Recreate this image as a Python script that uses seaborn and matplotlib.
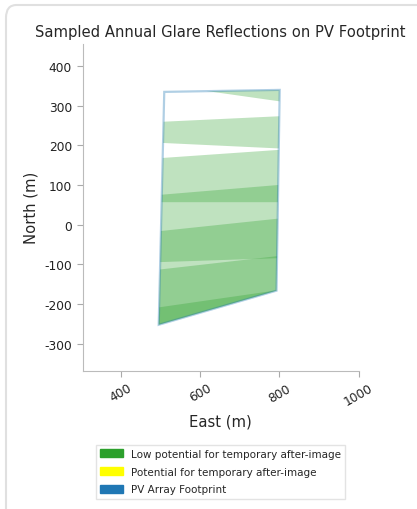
import numpy as np
import matplotlib
matplotlib.use("Agg")
import matplotlib.pyplot as plt
import seaborn as sns
from matplotlib.patches import Polygon, Patch, FancyBboxPatch

sns.set_style("ticks")
plt.rcParams['font.family'] = ['DejaVu Sans']
plt.rcParams['axes.unicode_minus'] = False

# PV array footprint corners (East, North) in m
foot_east = [510, 801, 793, 496]
foot_north = [335, 340, -166, -252]

# glare bands: north at west side / east side, top and bottom edges
band_x = [470, 830]
band_top_w = [450, 258, 166, 73, -19, -116, -212]
band_top_e = [450, 275, 191, 103, 19, -75, -160]
band_bot_w = [358, 208, 57, -95, -320, -320, -320]
band_bot_e = [307, 191, 57, -83, -320, -320, -320]

labels = ['Low potential for temporary after-image',
          'Potential for temporary after-image',
          'PV Array Footprint']
colors = ['tab:green', 'yellow', 'tab:blue']

fig = plt.figure(figsize=(4.17, 5.10), dpi=100)
ax = fig.add_axes([0.197, 0.271, 0.664, 0.641])

clip = Polygon(np.column_stack([foot_east, foot_north]), closed=True,
               transform=ax.transData, facecolor='none', edgecolor='none')
ax.add_patch(clip)

for tw, te, bw, be in zip(band_top_w, band_top_e, band_bot_w, band_bot_e):
    xs = [band_x[0], band_x[1], band_x[1], band_x[0]]
    ys = [tw, te, be, bw]
    p = ax.fill(xs, ys, color='tab:green', alpha=0.3, lw=0)[0]
    p.set_clip_path(clip)

ax.fill(foot_east, foot_north, facecolor='none', edgecolor='tab:blue',
        alpha=0.35, lw=1.6)

ax.set_xlim(304, 1000)
ax.set_ylim(-368, 456)
ax.set_aspect('equal')
ax.set_xticks([400, 600, 800, 1000])
ax.set_yticks(range(-300, 401, 100))
plt.setp(ax.get_xticklabels(), rotation=30)
ax.tick_params(colors='#aaaaaa', labelcolor='#222222', labelsize=8.8, length=4)
for s in ['left', 'bottom']:
    ax.spines[s].set_color('#bbbbbb')
sns.despine(ax=ax)

ax.set_title('Sampled Annual Glare Reflections on PV Footprint', fontsize=10.6)
ax.set_xlabel('East (m)', fontsize=10.6)
ax.set_ylabel('North (m)', fontsize=10.6)

handles = [Patch(color=c, label=l) for c, l in zip(colors, labels)]
ax.legend(handles=handles, loc='upper center', bbox_to_anchor=(0.5, -0.21),
          fontsize=7.5, frameon=True, fancybox=False, edgecolor='#dddddd',
          handlelength=2.2, handleheight=0.8, labelspacing=0.75)

frame = FancyBboxPatch((6 / 417, -0.1), 1.2, 1.1 - 6 / 510,
                       boxstyle='round,pad=0,rounding_size=0.025',
                       transform=fig.transFigure, facecolor='none',
                       edgecolor='#e0e0e0', lw=1.5)
fig.patches.append(frame)

fig.savefig('out.png', dpi=100)
